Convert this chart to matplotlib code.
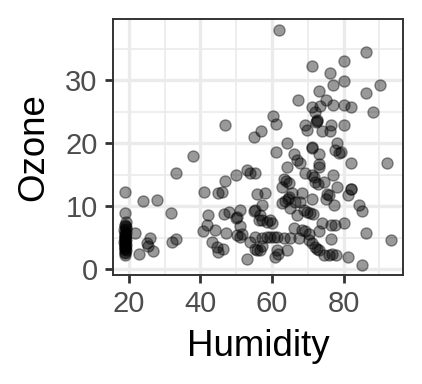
import matplotlib.pyplot as plt
from matplotlib.ticker import MultipleLocator

plt.rcParams['font.family'] = ['Liberation Sans', 'DejaVu Sans']

# humidity 19 column
hum_low = [19.0, 18.9, 19.1, 18.9, 19.0, 19.1, 18.8, 19.0, 19.1, 18.9, 19.0, 19.0, 18.9, 19.1,
           19.0, 18.8, 19.0, 19.1, 18.9, 19.0, 19.0, 19.1, 18.9, 19.0, 19.0, 19.1, 18.9, 19.0,
           19.0, 18.9]
oz_low = [12.3, 8.9, 7.5, 7.1, 6.9, 6.4, 6.2, 5.9, 5.7, 5.4, 5.2, 5.1, 4.8, 4.6,
          4.4, 4.3, 4.0, 3.8, 3.6, 3.5, 3.2, 3.0, 2.8, 2.6, 2.3, 6.7, 5.5, 4.7, 3.9, 3.3]

hum_mid = [21.7, 22.9, 25.0, 25.9, 25.4, 26.8, 24.0, 28.0, 31.8, 32.0, 33.2, 33.1, 38.0,
           41.1, 45.0, 46.0, 46.9, 50.0, 53.0, 53.9, 47.0, 54.9, 57.0,
           42.1, 41.8, 40.8, 44.1, 43.2, 44.6, 46.3, 45.0, 46.5, 48.1, 50.0, 50.1, 51.1,
           47.2, 50.2, 51.1, 51.6, 51.1, 53.0, 53.9, 55.0, 55.8, 56.3, 55.8, 55.3, 57.2]
oz_mid = [5.7, 2.5, 4.1, 5.0, 3.7, 2.9, 10.9, 11.0, 8.9, 4.4, 4.8, 15.2, 18.0,
          12.2, 12.1, 12.3, 14.0, 14.9, 15.7, 15.2, 22.9, 21.0, 22.0,
          8.6, 7.0, 6.0, 6.3, 4.4, 3.6, 3.2, 2.8, 8.8, 9.1, 8.2, 8.3, 9.4,
          5.7, 5.4, 5.2, 5.6, 6.8, 1.7, 4.4, 9.3, 3.1, 7.8, 12.0, 15.2, 10.2]

hum_high = [62.1, 86.2, 80.1, 71.2, 76.2, 80.1, 77.1, 90.2, 86.2, 73.1, 75.2, 67.2, 77.1,
            80.1, 82.2, 71.2, 73.3, 72.1, 88.2, 60.2, 61.1, 72.6, 72.5, 72.4, 69.1, 69.8,
            76.4, 76.1, 74.0, 80.1, 64.2, 78.2,
            61.1, 66.1, 71.2, 71.3, 73.1, 77.7, 78.7, 79.2, 82.2, 92.2, 67.0, 67.7, 64.2,
            73.1, 73.1, 69.1, 71.2, 71.7, 77.0, 63.3, 63.9, 64.7, 62.8, 72.1, 72.9, 74.5,
            78.2, 82.0, 82.1, 81.1, 58.1, 65.6, 64.7, 68.4, 75.4, 75.1, 75.9, 71.2, 62.8,
            63.7, 64.5, 66.5, 67.9, 77.3, 84.3, 85.2, 65.1, 68.9, 69.8, 70.7, 71.4, 67.0,
            55.3, 56.7, 57.2, 58.6, 59.5, 60.0, 74.0, 76.6, 77.5, 80.1, 86.2, 93.2, 66.1,
            68.4, 69.3, 70.3, 73.1, 76.4, 55.3, 57.2, 58.6, 59.5, 60.5, 61.4, 63.3, 65.1,
            67.5, 70.3, 71.2, 72.1, 72.6, 73.1, 74.5, 75.9, 76.8, 77.8, 81.3, 85.2, 55.3,
            56.7, 57.2, 61.4, 60.9, 61.8, 64.2]
oz_high = [37.9, 34.4, 33.0, 32.2, 31.1, 29.8, 29.2, 29.2, 28.0, 28.3, 26.9, 26.8, 26.0,
           26.1, 25.8, 25.8, 25.9, 25.0, 24.9, 24.3, 23.1, 23.7, 23.5, 23.3, 22.9, 22.1,
           22.9, 21.9, 21.9, 22.9, 20.1, 20.1,
           18.6, 18.3, 19.4, 19.2, 18.3, 18.9, 18.5, 18.6, 16.8, 16.8, 17.3, 16.9, 16.2,
           16.7, 16.2, 15.3, 14.9, 14.6, 14.9, 14.4, 14.0, 13.7, 13.1, 13.9, 13.6, 13.9,
           13.0, 12.7, 12.8, 11.8, 12.1, 12.1, 11.5, 12.1, 12.0, 11.2, 11.8, 11.2, 10.5,
           10.9, 11.1, 10.6, 10.7, 10.2, 10.2, 9.3, 9.7, 9.4, 9.1, 8.9, 8.8, 8.6,
           9.4, 8.6, 7.8, 7.5, 7.8, 7.4, 7.3, 7.0, 7.0, 7.3, 5.7, 4.6, 6.5,
           6.2, 6.0, 5.6, 6.0, 4.8, 5.2, 4.9, 5.2, 5.1, 5.2, 5.1, 4.9, 4.9,
           4.9, 4.6, 4.1, 3.6, 3.3, 3.1, 2.3, 2.3, 2.5, 2.3, 1.9, 0.7, 3.3,
           3.1, 3.7, 3.1, 2.0, 2.5, 3.1]

humidity = hum_low + hum_mid + hum_high
ozone = oz_low + oz_mid + oz_high

fig = plt.figure(figsize=(4.22, 3.84), dpi=100)
ax = fig.add_axes([113/422, 1 - 275/384, (403 - 113)/422, (275 - 19)/384])

ax.scatter(humidity, ozone, s=64, c='black', alpha=0.4, edgecolors='black', linewidths=1.0, zorder=3)

ax.set_xlim(15.6, 96.6)
ax.set_ylim(-0.9, 39.7)
ax.xaxis.set_major_locator(MultipleLocator(20))
ax.xaxis.set_minor_locator(MultipleLocator(10))
ax.yaxis.set_major_locator(MultipleLocator(10))
ax.yaxis.set_minor_locator(MultipleLocator(5))

ax.grid(which='major', color='#EBEBEB', linewidth=2.4, zorder=0)
ax.grid(which='minor', color='#EBEBEB', linewidth=1.2, zorder=0)
ax.set_axisbelow(True)

for sp in ax.spines.values():
    sp.set_color('#333333')
    sp.set_linewidth(1.4)

ax.tick_params(which='major', length=6, width=2.0, color='#333333', labelsize=21,
               labelcolor='#4D4D4D', pad=5)
ax.tick_params(which='minor', length=0)

ax.set_xlabel('Humidity', fontsize=26.4, labelpad=8)
ax.set_ylabel('Ozone', fontsize=26.4, labelpad=10)

plt.savefig('out.png', dpi=100)
